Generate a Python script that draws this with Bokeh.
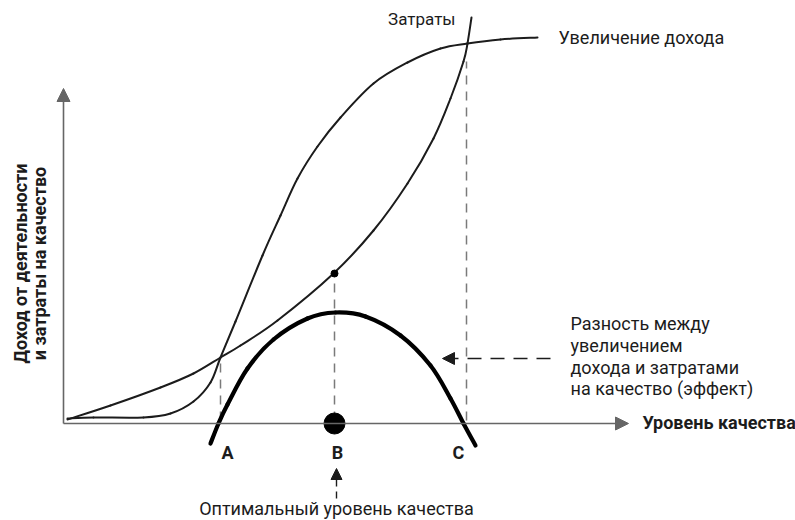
import math
from bokeh.plotting import figure
from bokeh.models import Range1d, Arrow, NormalHead
from bokeh.core.properties import value
from bokeh.embed import file_html
from bokeh.resources import INLINE

# ---- data (quality level on x, money on y) ----
revenue_x = [4, 30, 80, 107, 130, 147, 157, 172, 199, 217, 234, 254, 277, 310, 344, 377, 404, 437, 474]
revenue_y = [5, 6, 6, 10, 22, 41, 66, 102, 168, 208, 245, 277, 306, 340, 361, 375, 380, 384, 386]

cost_x = [4, 47, 97, 130, 157, 177, 214, 270, 310, 344, 370, 387, 400, 404, 408]
cost_y = [4, 18, 36, 50, 66, 78, 103, 150, 193, 240, 285, 325, 362, 380, 406]

effect_x = [147, 155, 164, 184, 210, 244, 272, 302, 337, 367, 387, 400, 412]
effect_y = [-20, 0, 19, 55, 84, 105, 111, 107, 88, 58, 25, 0, -22]

point_labels = ["A", "B", "C"]
point_x = [157, 271, 403]          # A, B (optimum), C
point_top = [66, 150, 362]         # where the dashed guides end
optimum_cost = 150                 # cost at the optimum B
x_axis_max = 565
y_axis_max = 335

FONT = value("Roboto")
INK = "#1c1c1c"
AXIS = "#666666"
DASH = "#7a7a7a"

p = figure(width=795, height=520, x_range=Range1d(-63, 732), y_range=Range1d(-97, 423),
           output_backend="svg", toolbar_location=None, min_border=0)
p.axis.visible = False
p.grid.visible = False
p.outline_line_color = None
p.background_fill_color = "white"
p.border_fill_color = "white"


def smooth(xs, ys, **kw):
    """Draw a smooth curve through the given points (Catmull-Rom as cubic Beziers)."""
    n = len(xs)
    x0, y0, x1, y1, cx0, cy0, cx1, cy1 = ([] for _ in range(8))
    for i in range(n - 1):
        xa, ya = xs[max(i - 1, 0)], ys[max(i - 1, 0)]
        xb, yb = xs[i], ys[i]
        xc, yc = xs[i + 1], ys[i + 1]
        xd, yd = xs[min(i + 2, n - 1)], ys[min(i + 2, n - 1)]
        x0.append(xb); y0.append(yb); x1.append(xc); y1.append(yc)
        cx0.append(xb + (xc - xa) / 6); cy0.append(yb + (yc - ya) / 6)
        cx1.append(xc - (xd - xb) / 6); cy1.append(yc - (yd - yb) / 6)
    p.bezier(x0=x0, y0=y0, x1=x1, y1=y1, cx0=cx0, cy0=cy0, cx1=cx1, cy1=cy1,
             line_cap="round", **kw)


# axes with arrows
p.add_layout(Arrow(end=NormalHead(size=13, fill_color=AXIS, line_color=AXIS),
                   x_start=0, y_start=0, x_end=x_axis_max, y_end=0,
                   line_color=AXIS, line_width=1.6))
p.add_layout(Arrow(end=NormalHead(size=13, fill_color=AXIS, line_color=AXIS),
                   x_start=0, y_start=0, x_end=0, y_end=y_axis_max,
                   line_color=AXIS, line_width=1.6))

# dashed guides
for xv, top in zip(point_x, point_top):
    p.line([xv, xv], [3, top], line_color=DASH, line_width=1.5, line_dash="9 7")

# curves
smooth(revenue_x, revenue_y, line_color=INK, line_width=2)
smooth(cost_x, cost_y, line_color=INK, line_width=2)
smooth(effect_x, effect_y, line_color="black", line_width=4.2)

# markers
p.scatter([point_x[1]], [optimum_cost], size=7, color="black")
p.scatter([point_x[1]], [0], size=21, color="black")

# arrow pointing at the effect curve
p.add_layout(Arrow(end=NormalHead(size=12, fill_color=INK, line_color=INK),
                   x_start=487, y_start=65, x_end=379, y_end=65,
                   line_color=INK, line_width=1.4, line_dash="14 9"))
# arrow pointing to optimum
p.add_layout(Arrow(end=NormalHead(size=11, fill_color=INK, line_color=INK),
                   x_start=273, y_start=-75, x_end=273, y_end=-45,
                   line_color=INK, line_width=1.4, line_dash="7 5"))

# texts
p.text(x=[392], y=[405], text=["Затраты"], text_font=FONT, text_font_size="17px",
       text_align="right", text_baseline="middle", text_color=INK)
p.text(x=[495], y=[386], text=["Увеличение дохода"], text_font=FONT, text_font_size="18px",
       text_align="left", text_baseline="middle", text_color=INK)
p.text(x=[579], y=[1], text=["Уровень качества"], text_font=FONT, text_font_size="18px",
       text_font_style="bold", text_align="left", text_baseline="middle", text_color=INK)
p.text(x=[507, 507, 507, 507], y=[100, 78, 56, 35],
       text=["Разность между", "увеличением", "дохода и затратами", "на качество (эффект)"],
       text_font=FONT, text_font_size="18px", text_align="left", text_baseline="middle",
       text_color=INK)
p.text(x=[164, 274, 395], y=[-29, -29, -29], text=point_labels, text_font=FONT,
       text_font_size="18px", text_font_style="bold", text_align="center",
       text_baseline="middle", text_color=INK)
p.text(x=[273], y=[-85], text=["Оптимальный уровень качества"], text_font=FONT,
       text_font_size="18px", text_align="center", text_baseline="middle", text_color=INK)
p.text(x=[-43, -24], y=[160, 160], text=["Доход от деятельности", "и затраты на качество"],
       angle=math.pi / 2, text_font=FONT, text_font_size="18px", text_font_style="bold",
       text_align="center", text_baseline="middle", text_color=INK)

open("out.html", "w").write(file_html(p, INLINE))
